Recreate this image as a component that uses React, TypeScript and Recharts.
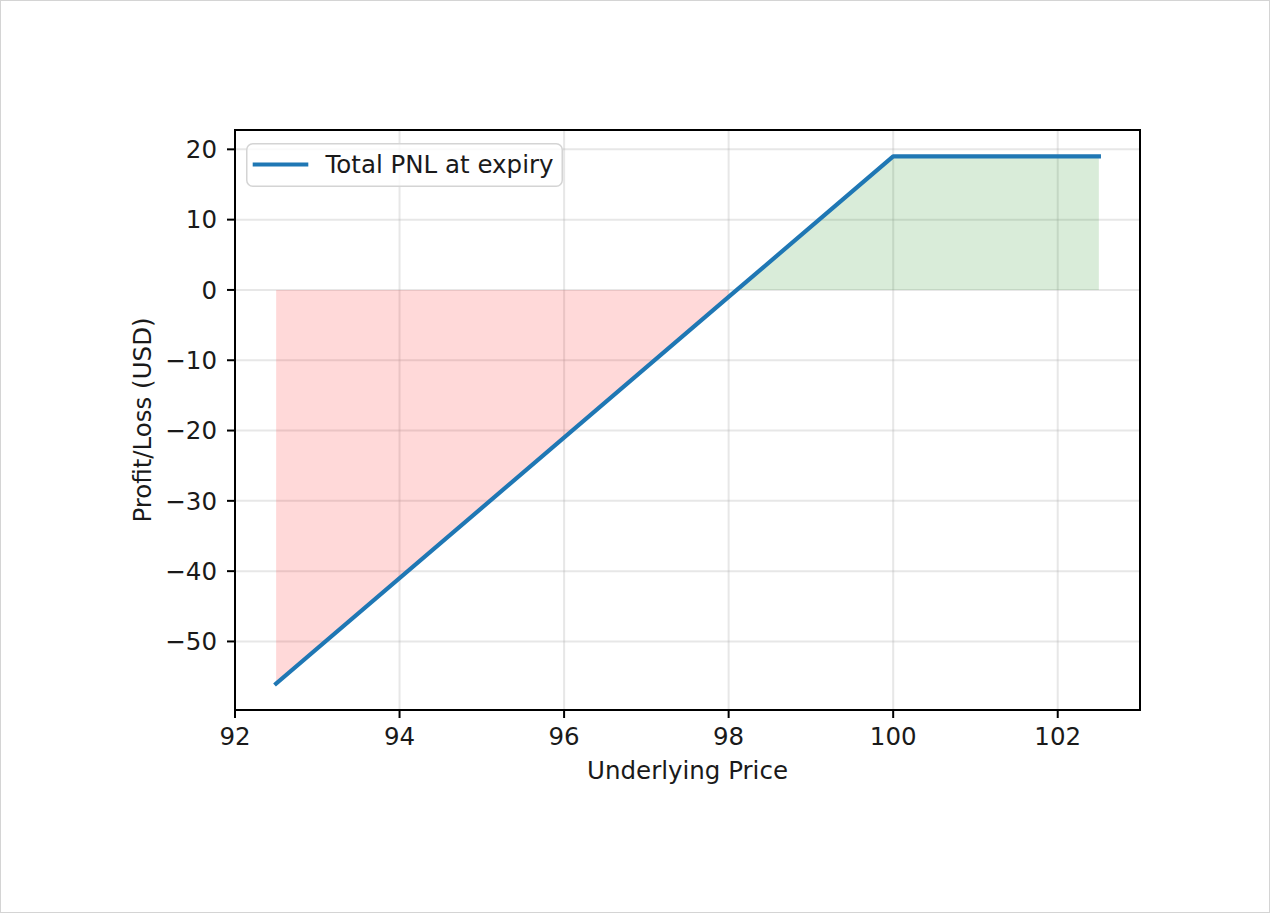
import {
  Area,
  CartesianGrid,
  ComposedChart,
  Legend,
  Line,
  ReferenceLine,
  XAxis,
  YAxis,
} from "recharts";

// underlying price samples and total PNL at expiry (USD)
const prices = [92.5, 98.0, 98.15, 100, 102.5];
const totalPnl = [-56, -1, 0.5, 19, 19];

const xTicks = [92, 94, 96, 98, 100, 102];
const yTicks = [-50, -40, -30, -20, -10, 0, 10, 20];
const xDomain: [number, number] = [92, 103];
const yDomain: [number, number] = [-59.75, 22.75];

const FONT = "'DejaVu Sans', sans-serif";
const FS = 24.5;
const INK = "#1a1a1a";
const BLUE = "#1f77b4";
const SPINE = { stroke: "#000", strokeWidth: 2, strokeLinecap: "square" as const };

const data = prices.map((price, i) => {
  const pnl = totalPnl[i];
  return {
    price,
    pnl,
    loss: pnl < 0 ? pnl : null,
    profit: pnl > 0 ? pnl : null,
  };
});

function fmtTick(v: number): string {
  return v < 0 ? `\u2212${Math.abs(v)}` : String(v);
}

function PnlLegend() {
  return (
    <svg width={317} height={44} style={{ display: "block" }}>
      <rect
        x={0.75}
        y={0.75}
        width={315.5}
        height={42.5}
        rx={6}
        fill="#fff"
        fillOpacity={0.8}
        stroke="#d4d4d4"
        strokeWidth={1.5}
      />
      <line x1={8.8} x2={60.2} y1={21.5} y2={21.5} stroke={BLUE} strokeWidth={4.2} strokeLinecap="square" />
      <text x={79.5} y={29.5} fontFamily={FONT} fontSize={FS} fill={INK}>
        Total PNL at expiry
      </text>
    </svg>
  );
}

const tickStyle = { fill: INK, fontSize: FS, fontFamily: FONT };

export default function App() {
  return (
    <div
      style={{
        position: "absolute",
        left: 0,
        top: 0,
        width: 1270,
        height: 913,
        background: "#fff",
      }}
    >
      <ComposedChart
        width={1270}
        height={913}
        data={data}
        margin={{ top: 130, right: 130, bottom: 163, left: 135 }}
      >
        <CartesianGrid stroke="#b0b0b0" strokeOpacity={0.3} strokeWidth={2} />
        <XAxis
          dataKey="price"
          type="number"
          domain={xDomain}
          ticks={xTicks}
          allowDataOverflow
          interval={0}
          height={40}
          tickSize={8}
          tickMargin={10}
          axisLine={SPINE}
          tickLine={{ stroke: "#000", strokeWidth: 2 }}
          tick={tickStyle}
          label={{
            value: "Underlying Price",
            position: "bottom",
            offset: 12,
            fill: INK,
            fontSize: FS,
            fontFamily: FONT,
          }}
        />
        <YAxis
          type="number"
          domain={yDomain}
          ticks={yTicks}
          allowDataOverflow
          interval={0}
          width={100}
          tickSize={8}
          tickMargin={10}
          tickFormatter={fmtTick}
          axisLine={SPINE}
          tickLine={{ stroke: "#000", strokeWidth: 2 }}
          tick={tickStyle}
          label={{
            value: "Profit/Loss (USD)",
            angle: -90,
            position: "insideLeft",
            offset: 7,
            style: { textAnchor: "middle" },
            fill: INK,
            fontSize: FS,
            fontFamily: FONT,
          }}
        />
        <Area
          type="linear"
          dataKey="loss"
          baseValue={0}
          stroke="none"
          fill="#ff0000"
          fillOpacity={0.15}
          dot={false}
          activeDot={false}
          isAnimationActive={false}
        />
        <Area
          type="linear"
          dataKey="profit"
          baseValue={0}
          stroke="none"
          fill="#008000"
          fillOpacity={0.15}
          dot={false}
          activeDot={false}
          isAnimationActive={false}
        />
        <Line
          type="linear"
          dataKey="pnl"
          stroke={BLUE}
          strokeWidth={4.2}
          strokeLinecap="square"
          strokeLinejoin="round"
          dot={false}
          activeDot={false}
          isAnimationActive={false}
        />
        {/* top and right spines */}
        <ReferenceLine y={yDomain[1]} {...SPINE} />
        <ReferenceLine x={xDomain[1]} {...SPINE} />
        <Legend
          layout="vertical"
          align="center"
          verticalAlign="middle"
          wrapperStyle={{ position: "absolute", left: 246, top: 143, width: 317, height: 44, margin: 0, padding: 0 }}
          content={() => <PnlLegend />}
        />
      </ComposedChart>
      <div
        style={{
          position: "absolute",
          inset: 0,
          border: "1px solid #d4d4d4",
          boxSizing: "border-box",
          pointerEvents: "none",
        }}
      />
    </div>
  );
}
